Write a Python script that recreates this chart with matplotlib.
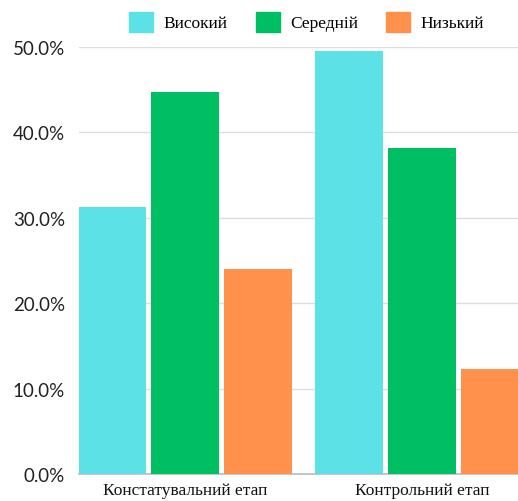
import numpy as np
import matplotlib.pyplot as plt
from matplotlib.patches import Patch

stages = ['Констатувальний етап', 'Контрольний етап']
levels = ['Високий', 'Середній', 'Низький']
high = [31.3, 49.5]
medium = [44.7, 38.2]
low = [24.0, 12.3]
colors = ['#5ce1e6', '#00bf63', '#ff914d']
yticks = [0, 10, 20, 30, 40, 50]

fig = plt.figure(figsize=(5.18, 5.02), dpi=100)
ax = fig.add_axes([0.1525, 0.0538, 0.8475, 0.8506])

x = np.arange(len(stages))
width = 0.287
step = 0.308
for i, vals in enumerate([high, medium, low]):
    ax.bar(x + (i - 1) * step, vals, width, color=colors[i], zorder=3)

ax.set_xlim(-0.449, 1.403)
ax.set_ylim(0, 50)
ax.set_yticks(yticks)
ax.set_yticklabels([f'{v:.1f}%' for v in yticks], fontfamily='Lato', fontsize=13.5, color='#222222')
ax.set_xticks(x)
ax.set_xticklabels(stages, fontfamily='Liberation Serif', fontsize=12.5, color='#111111')
ax.tick_params(length=0, pad=6)
ax.tick_params(axis='y', pad=10)
ax.grid(axis='y', color='#dddddd', linewidth=1, zorder=0)
for s in ['top', 'right', 'left']:
    ax.spines[s].set_visible(False)
ax.spines['bottom'].set_color('#bbbbbb')
ax.spines['bottom'].set_linewidth(1.2)

handles = [Patch(color=c, label=l) for c, l in zip(colors, levels)]
fig.legend(handles=handles, loc='center', bbox_to_anchor=(0.592, 0.955), ncol=3, frameon=False,
           prop={'family': 'Liberation Serif', 'size': 12.5}, handlelength=1.4, handleheight=1.4,
           columnspacing=1.6, handletextpad=0.6)

fig.savefig('out.png', dpi=100)
